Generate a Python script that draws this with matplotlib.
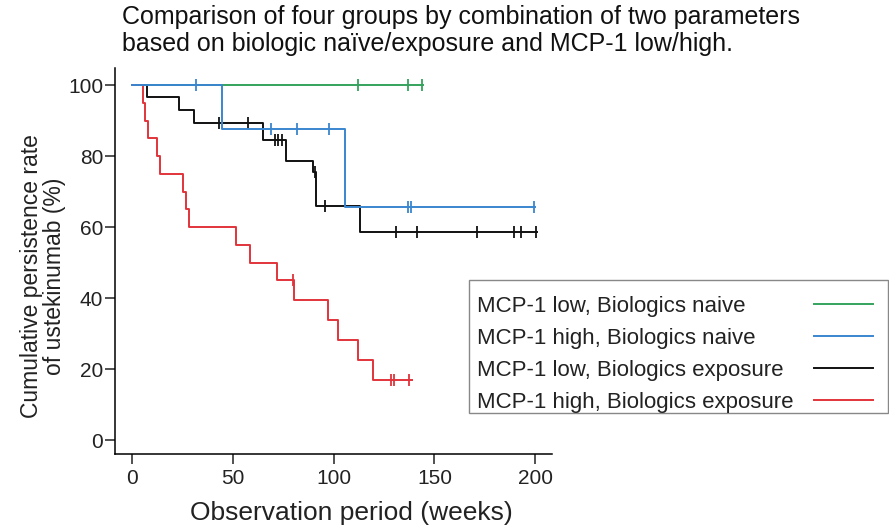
import numpy as np
import matplotlib
matplotlib.use("Agg")
import matplotlib.pyplot as plt
from matplotlib.lines import Line2D
from matplotlib.patches import Rectangle

plt.rcParams['font.family'] = ['Liberation Sans', 'DejaVu Sans']

# ---- data (weeks, % persistence) ----
labels = ["MCP-1 low, Biologics naive",
          "MCP-1 high, Biologics naive",
          "MCP-1 low, Biologics exposure",
          "MCP-1 high, Biologics exposure"]
colors = ["#35a35c", "#3a86cf", "#111111", "#e2333b"]

green_t = [0, 144.3]
green_s = [100, 100]
green_c = [112.1, 136.9, 143.8]

blue_t = [0, 44.8, 105.7, 199.6]
blue_s = [100, 87.5, 65.6, 65.6]
blue_c = [31.9, 69.1, 81.9, 97.8, 136.9, 138.4, 199.3]

black_t = [0, 7.8, 23.7, 31.1, 65.2, 76.5, 90.0, 91.3, 113.1, 201.0]
black_s = [100, 96.6, 93.1, 89.4, 84.5, 78.7, 75.5, 65.9, 58.5, 58.5]
black_c = [43.5, 57.8, 71.0, 72.6, 74.5, 90.6, 95.8, 131.0, 141.4, 171.0,
           189.4, 192.8, 200.2]

red_t = [0, 5.8, 6.5, 8.2, 12.8, 14.1, 25.6, 26.9, 28.2, 51.7, 58.7, 72.0,
         80.4, 97.3, 102.2, 112.0, 119.6, 139.0]
red_s = [100, 95, 90, 85, 80, 75, 70, 65, 60, 55, 50, 45, 39.4, 33.75,
         28.1, 22.5, 16.9, 16.9]
red_c = [79.8, 128.5, 130.0, 137.4]

xticks = [0, 50, 100, 150, 200]
yticks = [0, 20, 40, 60, 80, 100]

groups = [(green_t, green_s, green_c),
          (blue_t, blue_s, blue_c),
          (black_t, black_s, black_c),
          (red_t, red_s, red_c)]

W, H = 889, 529
fig = plt.figure(figsize=(W/100, H/100), dpi=100)
ax = fig.add_axes([115/W, 1-454/H, (552-115)/W, (454-68)/H])

draw_order = [0, 2, 3, 1]
for i in draw_order:
    t, s, c = groups[i]
    t = np.asarray(t); s = np.asarray(s)
    ax.step(t, s, where='post', color=colors[i], lw=1.4, zorder=2 + (i == 1))
    idx = np.searchsorted(t, np.asarray(c), side='right') - 1
    ax.plot(c, s[idx], ls='none', marker='|', ms=8, mew=1.3,
            color=colors[i], zorder=2 + (i == 1))

ax.set_xlim(-8.2, 208.2)
ax.set_ylim(-3.9, 104.8)
ax.set_xticks(xticks)
ax.set_yticks(yticks)
for sp in ['top', 'right']:
    ax.spines[sp].set_visible(False)
for sp in ['left', 'bottom']:
    ax.spines[sp].set_linewidth(1.1)
ax.tick_params(axis='both', direction='out', length=7, width=1.1,
               labelsize=15, colors='#222222')
ax.tick_params(axis='y', pad=1.5)
ax.tick_params(axis='x', pad=4)

ax.set_xlabel("Observation period (weeks)", fontsize=19, color='#222222')
ax.xaxis.set_label_coords(0.541, -0.122)
ax.xaxis.label.set_va('top')
ax.set_ylabel("Cumulative persistence rate\nof ustekinumab (%)", fontsize=16.5,
              color='#222222', linespacing=1.0)
ax.yaxis.set_label_coords(-0.112, 0.461)

fig.text(122/W, 1-5/H,
         "Comparison of four groups by combination of two parameters\n"
         "based on biologic naïve/exposure and MCP-1 low/high.",
         ha='left', va='top', fontsize=18, color='#111111', linespacing=1.15)

# legend: entries without frame, frame drawn separately (uneven padding)
handles = [Line2D([], [], color=c, lw=1.4) for c in colors]
leg = fig.legend(handles, labels, loc='upper left',
                 bbox_to_anchor=(477/W, 1-296/H), markerfirst=False,
                 frameon=False, fontsize=16, handlelength=2.66,
                 handletextpad=0.9, labelspacing=0.49, borderpad=0,
                 borderaxespad=0)
for t in leg.get_texts():
    t.set_color('#222222')
fig.patches.append(Rectangle((469/W, 1-413/H), (888-469)/W, (413-280)/H,
                             transform=fig.transFigure, fill=False,
                             edgecolor='#888888', lw=1.0, clip_on=False))

fig.canvas.draw()
renderer = fig.canvas.get_renderer()
widths = [t.get_window_extent(renderer).width for t in leg.get_texts()]
maxw = max(widths)
items = leg._legend_handle_box.get_children()[0].get_children()
for item, w in zip(items, widths):
    item.sep += (maxw - w) * 72 / fig.dpi

fig.savefig("out.png", dpi=100)
